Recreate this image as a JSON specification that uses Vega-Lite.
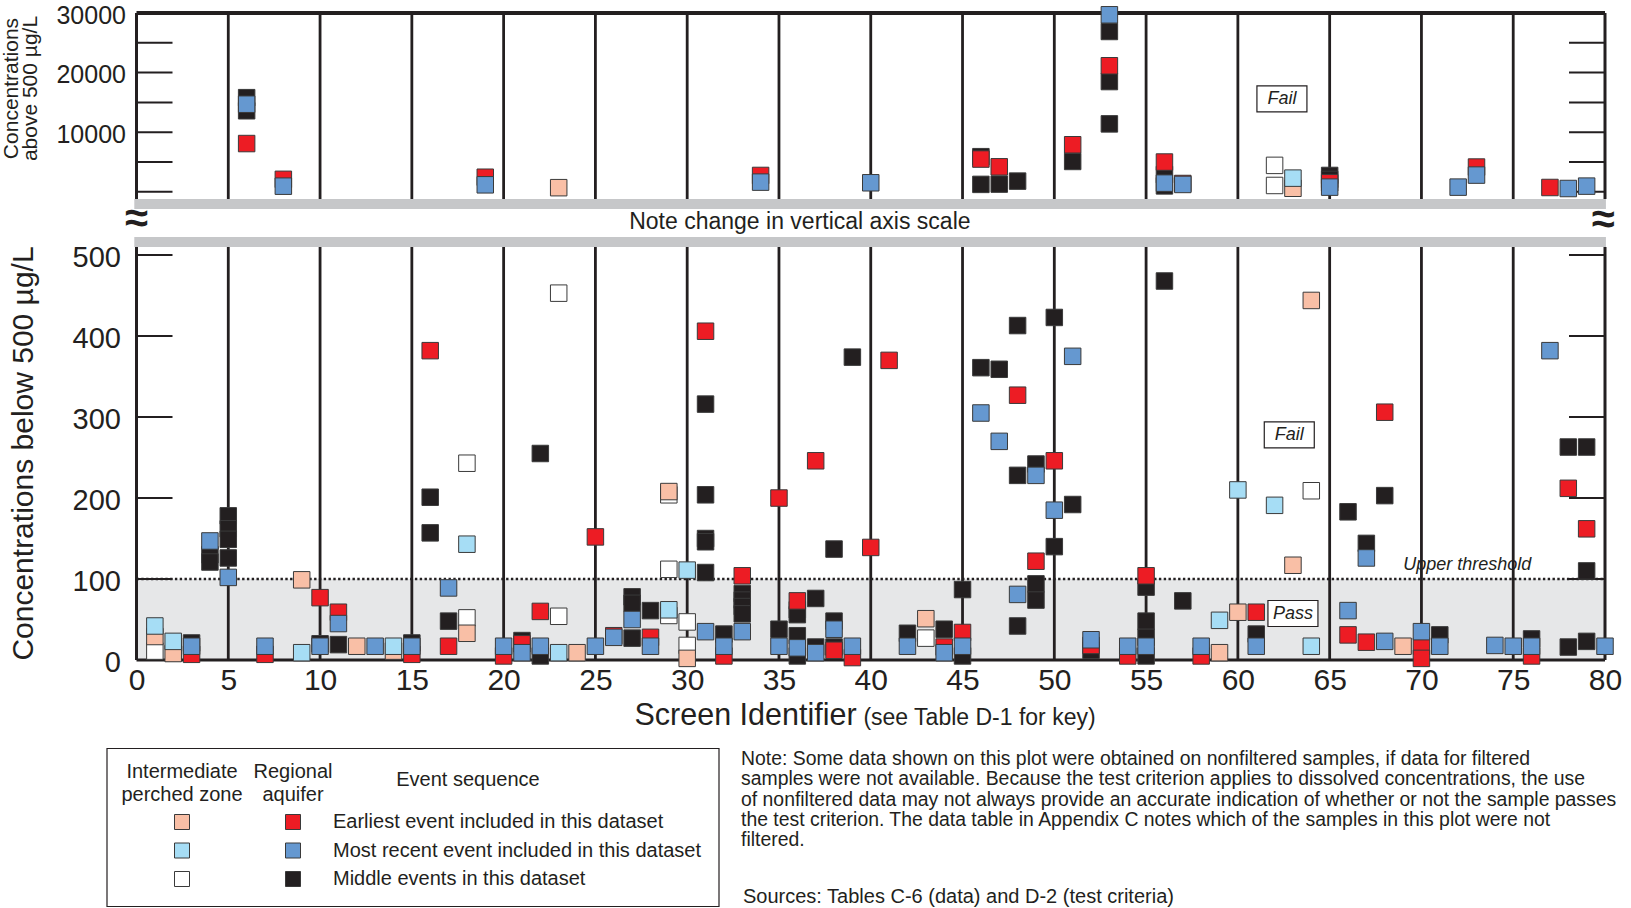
{
  "$schema": "https://vega.github.io/schema/vega-lite/v6.json",
  "width": 1468.5,
  "height": 647,
  "autosize": {"type": "none"},
  "padding": {"left": 136.5, "top": 13, "right": 26, "bottom": 248},
  "background": "white",
  "config": {
    "view": {"stroke": null},
    "font": "Liberation Sans",
    "axis": {"labelFont": "Liberation Sans", "titleFont": "Liberation Sans", "labelColor": "#231F20", "titleColor": "#231F20", "titleFontWeight": "normal", "grid": false, "domain": false, "ticks": false},
    "text": {"font": "Liberation Sans", "color": "#231F20"}
  },
  "datasets": {
    "upper": [
      {"screen": 6, "conc": 15800, "group": "Regional middle"},
      {"screen": 6, "conc": 13600, "group": "Regional middle"},
      {"screen": 46, "conc": 5900, "group": "Regional middle"},
      {"screen": 46, "conc": 1250, "group": "Regional middle"},
      {"screen": 47, "conc": 1300, "group": "Regional middle"},
      {"screen": 48, "conc": 1800, "group": "Regional middle"},
      {"screen": 51, "conc": 5100, "group": "Regional middle"},
      {"screen": 53, "conc": 26900, "group": "Regional middle"},
      {"screen": 53, "conc": 18500, "group": "Regional middle"},
      {"screen": 53, "conc": 11400, "group": "Regional middle"},
      {"screen": 56, "conc": 2900, "group": "Regional middle"},
      {"screen": 56, "conc": 1000, "group": "Regional middle"},
      {"screen": 65, "conc": 2750, "group": "Regional middle"},
      {"screen": 65, "conc": 2080, "group": "Regional middle"},
      {"screen": 62, "conc": 4440, "group": "Intermediate middle"},
      {"screen": 62, "conc": 1070, "group": "Intermediate middle"},
      {"screen": 6, "conc": 8100, "group": "Regional earliest"},
      {"screen": 8, "conc": 2100, "group": "Regional earliest"},
      {"screen": 19, "conc": 2450, "group": "Regional earliest"},
      {"screen": 34, "conc": 2750, "group": "Regional earliest"},
      {"screen": 46, "conc": 5500, "group": "Regional earliest"},
      {"screen": 47, "conc": 4200, "group": "Regional earliest"},
      {"screen": 51, "conc": 7900, "group": "Regional earliest"},
      {"screen": 53, "conc": 21150, "group": "Regional earliest"},
      {"screen": 56, "conc": 5000, "group": "Regional earliest"},
      {"screen": 57, "conc": 1400, "group": "Regional earliest"},
      {"screen": 65, "conc": 1520, "group": "Regional earliest"},
      {"screen": 73, "conc": 4160, "group": "Regional earliest"},
      {"screen": 77, "conc": 730, "group": "Regional earliest"},
      {"screen": 23, "conc": 700, "group": "Intermediate earliest"},
      {"screen": 63, "conc": 600, "group": "Intermediate earliest"},
      {"screen": 6, "conc": 14700, "group": "Regional most recent"},
      {"screen": 8, "conc": 950, "group": "Regional most recent"},
      {"screen": 19, "conc": 1180, "group": "Regional most recent"},
      {"screen": 34, "conc": 1630, "group": "Regional most recent"},
      {"screen": 40, "conc": 1520, "group": "Regional most recent"},
      {"screen": 53, "conc": 29700, "group": "Regional most recent"},
      {"screen": 56, "conc": 1460, "group": "Regional most recent"},
      {"screen": 57, "conc": 1240, "group": "Regional most recent"},
      {"screen": 65, "conc": 790, "group": "Regional most recent"},
      {"screen": 72, "conc": 790, "group": "Regional most recent"},
      {"screen": 73, "conc": 2810, "group": "Regional most recent"},
      {"screen": 78, "conc": 560, "group": "Regional most recent"},
      {"screen": 79, "conc": 960, "group": "Regional most recent"},
      {"screen": 63, "conc": 2300, "group": "Intermediate most recent"}
    ],
    "lower": [
      {"screen": 3, "conc": 21, "group": "Regional middle"},
      {"screen": 4, "conc": 130, "group": "Regional middle"},
      {"screen": 4, "conc": 121, "group": "Regional middle"},
      {"screen": 5, "conc": 178, "group": "Regional middle"},
      {"screen": 5, "conc": 162, "group": "Regional middle"},
      {"screen": 5, "conc": 149, "group": "Regional middle"},
      {"screen": 5, "conc": 126, "group": "Regional middle"},
      {"screen": 10, "conc": 20, "group": "Regional middle"},
      {"screen": 11, "conc": 19, "group": "Regional middle"},
      {"screen": 15, "conc": 21, "group": "Regional middle"},
      {"screen": 16, "conc": 201, "group": "Regional middle"},
      {"screen": 16, "conc": 157, "group": "Regional middle"},
      {"screen": 17, "conc": 48, "group": "Regional middle"},
      {"screen": 21, "conc": 24, "group": "Regional middle"},
      {"screen": 22, "conc": 255, "group": "Regional middle"},
      {"screen": 22, "conc": 5, "group": "Regional middle"},
      {"screen": 27, "conc": 78, "group": "Regional middle"},
      {"screen": 27, "conc": 70, "group": "Regional middle"},
      {"screen": 27, "conc": 27, "group": "Regional middle"},
      {"screen": 28, "conc": 61, "group": "Regional middle"},
      {"screen": 31, "conc": 316, "group": "Regional middle"},
      {"screen": 31, "conc": 204, "group": "Regional middle"},
      {"screen": 31, "conc": 150, "group": "Regional middle"},
      {"screen": 31, "conc": 146, "group": "Regional middle"},
      {"screen": 31, "conc": 108, "group": "Regional middle"},
      {"screen": 32, "conc": 32, "group": "Regional middle"},
      {"screen": 33, "conc": 82, "group": "Regional middle"},
      {"screen": 33, "conc": 74, "group": "Regional middle"},
      {"screen": 33, "conc": 66, "group": "Regional middle"},
      {"screen": 33, "conc": 57, "group": "Regional middle"},
      {"screen": 35, "conc": 38, "group": "Regional middle"},
      {"screen": 36, "conc": 62, "group": "Regional middle"},
      {"screen": 36, "conc": 56, "group": "Regional middle"},
      {"screen": 36, "conc": 30, "group": "Regional middle"},
      {"screen": 36, "conc": 5, "group": "Regional middle"},
      {"screen": 37, "conc": 76, "group": "Regional middle"},
      {"screen": 37, "conc": 16, "group": "Regional middle"},
      {"screen": 38, "conc": 137, "group": "Regional middle"},
      {"screen": 38, "conc": 48, "group": "Regional middle"},
      {"screen": 38, "conc": 16, "group": "Regional middle"},
      {"screen": 39, "conc": 374, "group": "Regional middle"},
      {"screen": 42, "conc": 33, "group": "Regional middle"},
      {"screen": 44, "conc": 38, "group": "Regional middle"},
      {"screen": 45, "conc": 87, "group": "Regional middle"},
      {"screen": 45, "conc": 5, "group": "Regional middle"},
      {"screen": 46, "conc": 361, "group": "Regional middle"},
      {"screen": 47, "conc": 359, "group": "Regional middle"},
      {"screen": 48, "conc": 413, "group": "Regional middle"},
      {"screen": 48, "conc": 228, "group": "Regional middle"},
      {"screen": 48, "conc": 42, "group": "Regional middle"},
      {"screen": 49, "conc": 242, "group": "Regional middle"},
      {"screen": 49, "conc": 94, "group": "Regional middle"},
      {"screen": 49, "conc": 74, "group": "Regional middle"},
      {"screen": 50, "conc": 423, "group": "Regional middle"},
      {"screen": 50, "conc": 140, "group": "Regional middle"},
      {"screen": 51, "conc": 192, "group": "Regional middle"},
      {"screen": 52, "conc": 12, "group": "Regional middle"},
      {"screen": 55, "conc": 90, "group": "Regional middle"},
      {"screen": 55, "conc": 48, "group": "Regional middle"},
      {"screen": 55, "conc": 28, "group": "Regional middle"},
      {"screen": 55, "conc": 5, "group": "Regional middle"},
      {"screen": 56, "conc": 468, "group": "Regional middle"},
      {"screen": 57, "conc": 73, "group": "Regional middle"},
      {"screen": 61, "conc": 32, "group": "Regional middle"},
      {"screen": 66, "conc": 183, "group": "Regional middle"},
      {"screen": 67, "conc": 144, "group": "Regional middle"},
      {"screen": 68, "conc": 203, "group": "Regional middle"},
      {"screen": 71, "conc": 31, "group": "Regional middle"},
      {"screen": 76, "conc": 26, "group": "Regional middle"},
      {"screen": 78, "conc": 263, "group": "Regional middle"},
      {"screen": 78, "conc": 16, "group": "Regional middle"},
      {"screen": 79, "conc": 263, "group": "Regional middle"},
      {"screen": 79, "conc": 110, "group": "Regional middle"},
      {"screen": 79, "conc": 23, "group": "Regional middle"},
      {"screen": 1, "conc": 11, "group": "Intermediate middle"},
      {"screen": 18, "conc": 243, "group": "Intermediate middle"},
      {"screen": 18, "conc": 52, "group": "Intermediate middle"},
      {"screen": 23, "conc": 453, "group": "Intermediate middle"},
      {"screen": 23, "conc": 54, "group": "Intermediate middle"},
      {"screen": 29, "conc": 204, "group": "Intermediate middle"},
      {"screen": 29, "conc": 112, "group": "Intermediate middle"},
      {"screen": 29, "conc": 55, "group": "Intermediate middle"},
      {"screen": 30, "conc": 47, "group": "Intermediate middle"},
      {"screen": 30, "conc": 18, "group": "Intermediate middle"},
      {"screen": 43, "conc": 27, "group": "Intermediate middle"},
      {"screen": 64, "conc": 209, "group": "Intermediate middle"},
      {"screen": 3, "conc": 7, "group": "Regional earliest"},
      {"screen": 7, "conc": 7, "group": "Regional earliest"},
      {"screen": 10, "conc": 77, "group": "Regional earliest"},
      {"screen": 11, "conc": 59, "group": "Regional earliest"},
      {"screen": 15, "conc": 7, "group": "Regional earliest"},
      {"screen": 16, "conc": 382, "group": "Regional earliest"},
      {"screen": 17, "conc": 17, "group": "Regional earliest"},
      {"screen": 20, "conc": 5, "group": "Regional earliest"},
      {"screen": 21, "conc": 20, "group": "Regional earliest"},
      {"screen": 22, "conc": 60, "group": "Regional earliest"},
      {"screen": 25, "conc": 152, "group": "Regional earliest"},
      {"screen": 26, "conc": 30, "group": "Regional earliest"},
      {"screen": 28, "conc": 28, "group": "Regional earliest"},
      {"screen": 31, "conc": 406, "group": "Regional earliest"},
      {"screen": 32, "conc": 5, "group": "Regional earliest"},
      {"screen": 33, "conc": 104, "group": "Regional earliest"},
      {"screen": 35, "conc": 200, "group": "Regional earliest"},
      {"screen": 36, "conc": 73, "group": "Regional earliest"},
      {"screen": 37, "conc": 246, "group": "Regional earliest"},
      {"screen": 38, "conc": 12, "group": "Regional earliest"},
      {"screen": 39, "conc": 3, "group": "Regional earliest"},
      {"screen": 40, "conc": 139, "group": "Regional earliest"},
      {"screen": 41, "conc": 370, "group": "Regional earliest"},
      {"screen": 44, "conc": 16, "group": "Regional earliest"},
      {"screen": 45, "conc": 34, "group": "Regional earliest"},
      {"screen": 48, "conc": 327, "group": "Regional earliest"},
      {"screen": 49, "conc": 122, "group": "Regional earliest"},
      {"screen": 50, "conc": 246, "group": "Regional earliest"},
      {"screen": 52, "conc": 18, "group": "Regional earliest"},
      {"screen": 54, "conc": 5, "group": "Regional earliest"},
      {"screen": 55, "conc": 104, "group": "Regional earliest"},
      {"screen": 58, "conc": 5, "group": "Regional earliest"},
      {"screen": 61, "conc": 59, "group": "Regional earliest"},
      {"screen": 66, "conc": 31, "group": "Regional earliest"},
      {"screen": 67, "conc": 22, "group": "Regional earliest"},
      {"screen": 68, "conc": 306, "group": "Regional earliest"},
      {"screen": 70, "conc": 17, "group": "Regional earliest"},
      {"screen": 70, "conc": 2, "group": "Regional earliest"},
      {"screen": 76, "conc": 5, "group": "Regional earliest"},
      {"screen": 78, "conc": 212, "group": "Regional earliest"},
      {"screen": 79, "conc": 162, "group": "Regional earliest"},
      {"screen": 1, "conc": 29, "group": "Intermediate earliest"},
      {"screen": 2, "conc": 8, "group": "Intermediate earliest"},
      {"screen": 9, "conc": 99, "group": "Intermediate earliest"},
      {"screen": 12, "conc": 17, "group": "Intermediate earliest"},
      {"screen": 14, "conc": 11, "group": "Intermediate earliest"},
      {"screen": 18, "conc": 33, "group": "Intermediate earliest"},
      {"screen": 24, "conc": 9, "group": "Intermediate earliest"},
      {"screen": 29, "conc": 208, "group": "Intermediate earliest"},
      {"screen": 30, "conc": 2, "group": "Intermediate earliest"},
      {"screen": 43, "conc": 51, "group": "Intermediate earliest"},
      {"screen": 59, "conc": 9, "group": "Intermediate earliest"},
      {"screen": 60, "conc": 59, "group": "Intermediate earliest"},
      {"screen": 63, "conc": 117, "group": "Intermediate earliest"},
      {"screen": 64, "conc": 444, "group": "Intermediate earliest"},
      {"screen": 69, "conc": 17, "group": "Intermediate earliest"},
      {"screen": 3, "conc": 17, "group": "Regional most recent"},
      {"screen": 4, "conc": 147, "group": "Regional most recent"},
      {"screen": 5, "conc": 102, "group": "Regional most recent"},
      {"screen": 7, "conc": 17, "group": "Regional most recent"},
      {"screen": 10, "conc": 17, "group": "Regional most recent"},
      {"screen": 11, "conc": 45, "group": "Regional most recent"},
      {"screen": 13, "conc": 17, "group": "Regional most recent"},
      {"screen": 15, "conc": 17, "group": "Regional most recent"},
      {"screen": 17, "conc": 89, "group": "Regional most recent"},
      {"screen": 20, "conc": 17, "group": "Regional most recent"},
      {"screen": 21, "conc": 9, "group": "Regional most recent"},
      {"screen": 22, "conc": 17, "group": "Regional most recent"},
      {"screen": 25, "conc": 17, "group": "Regional most recent"},
      {"screen": 26, "conc": 28, "group": "Regional most recent"},
      {"screen": 27, "conc": 50, "group": "Regional most recent"},
      {"screen": 28, "conc": 17, "group": "Regional most recent"},
      {"screen": 31, "conc": 35, "group": "Regional most recent"},
      {"screen": 32, "conc": 17, "group": "Regional most recent"},
      {"screen": 33, "conc": 35, "group": "Regional most recent"},
      {"screen": 35, "conc": 17, "group": "Regional most recent"},
      {"screen": 36, "conc": 15, "group": "Regional most recent"},
      {"screen": 37, "conc": 9, "group": "Regional most recent"},
      {"screen": 38, "conc": 38, "group": "Regional most recent"},
      {"screen": 39, "conc": 17, "group": "Regional most recent"},
      {"screen": 42, "conc": 17, "group": "Regional most recent"},
      {"screen": 44, "conc": 9, "group": "Regional most recent"},
      {"screen": 45, "conc": 17, "group": "Regional most recent"},
      {"screen": 46, "conc": 305, "group": "Regional most recent"},
      {"screen": 47, "conc": 270, "group": "Regional most recent"},
      {"screen": 48, "conc": 81, "group": "Regional most recent"},
      {"screen": 49, "conc": 228, "group": "Regional most recent"},
      {"screen": 50, "conc": 185, "group": "Regional most recent"},
      {"screen": 51, "conc": 375, "group": "Regional most recent"},
      {"screen": 52, "conc": 25, "group": "Regional most recent"},
      {"screen": 54, "conc": 17, "group": "Regional most recent"},
      {"screen": 55, "conc": 17, "group": "Regional most recent"},
      {"screen": 58, "conc": 17, "group": "Regional most recent"},
      {"screen": 61, "conc": 17, "group": "Regional most recent"},
      {"screen": 66, "conc": 61, "group": "Regional most recent"},
      {"screen": 67, "conc": 126, "group": "Regional most recent"},
      {"screen": 68, "conc": 23, "group": "Regional most recent"},
      {"screen": 70, "conc": 35, "group": "Regional most recent"},
      {"screen": 71, "conc": 17, "group": "Regional most recent"},
      {"screen": 74, "conc": 18, "group": "Regional most recent"},
      {"screen": 75, "conc": 17, "group": "Regional most recent"},
      {"screen": 76, "conc": 17, "group": "Regional most recent"},
      {"screen": 77, "conc": 382, "group": "Regional most recent"},
      {"screen": 80, "conc": 17, "group": "Regional most recent"},
      {"screen": 1, "conc": 42, "group": "Intermediate most recent"},
      {"screen": 2, "conc": 23, "group": "Intermediate most recent"},
      {"screen": 9, "conc": 9, "group": "Intermediate most recent"},
      {"screen": 14, "conc": 17, "group": "Intermediate most recent"},
      {"screen": 18, "conc": 143, "group": "Intermediate most recent"},
      {"screen": 23, "conc": 9, "group": "Intermediate most recent"},
      {"screen": 29, "conc": 62, "group": "Intermediate most recent"},
      {"screen": 30, "conc": 111, "group": "Intermediate most recent"},
      {"screen": 59, "conc": 49, "group": "Intermediate most recent"},
      {"screen": 60, "conc": 210, "group": "Intermediate most recent"},
      {"screen": 62, "conc": 191, "group": "Intermediate most recent"},
      {"screen": 64, "conc": 17, "group": "Intermediate most recent"}
    ],
    "screens": [{"screen": 5}, {"screen": 10}, {"screen": 15}, {"screen": 20}, {"screen": 25}, {"screen": 30}, {"screen": 35}, {"screen": 40}, {"screen": 45}, {"screen": 50}, {"screen": 55}, {"screen": 60}, {"screen": 65}, {"screen": 70}, {"screen": 75}],
    "edges": [{"screen": 0}, {"screen": 80}],
    "ticksUpper": [{"conc": 0}, {"conc": 5000}, {"conc": 10000}, {"conc": 15000}, {"conc": 20000}, {"conc": 25000}],
    "ticksLower": [{"conc": 100}, {"conc": 200}, {"conc": 300}, {"conc": 400}, {"conc": 500}],
    "bands": [{"from": 510, "to": 522.4}, {"from": 556.9, "to": 569.3}],
    "upperNotes": [{"screen": 62.4, "conc": 15600, "label": "Fail"}],
    "lowerNotes": [{"screen": 62.8, "conc": 278, "label": "Fail"}, {"screen": 63.0, "conc": 57.4, "label": "Pass"}],
    "threshold": [{"screen": 72.5, "conc": 117, "label": "Upper threshold"}],
    "scaleNote": [{"screen": 36.14, "conc": 541.4, "label": "Note change in vertical axis scale"}],
    "breaks": [{"screen": 0, "conc": 544, "label": "≈"}, {"screen": 79.9, "conc": 543, "label": "≈"}],
    "legendItems": [
      {"zone": "Intermediate perched zone", "event": "Earliest event included in this dataset", "group": "Intermediate earliest"},
      {"zone": "Intermediate perched zone", "event": "Most recent event included in this dataset", "group": "Intermediate most recent"},
      {"zone": "Intermediate perched zone", "event": "Middle events in this dataset", "group": "Intermediate middle"},
      {"zone": "Regional aquifer", "event": "Earliest event included in this dataset", "group": "Regional earliest"},
      {"zone": "Regional aquifer", "event": "Most recent event included in this dataset", "group": "Regional most recent"},
      {"zone": "Regional aquifer", "event": "Middle events in this dataset", "group": "Regional middle"}
    ],
    "legendHeads": [
      {"zone": "Intermediate perched zone", "lines": ["Intermediate", "perched zone"]},
      {"zone": "Regional aquifer", "lines": ["Regional", "aquifer"]}
    ],
    "legendLabels": [
      {"event": "Earliest event included in this dataset"},
      {"event": "Most recent event included in this dataset"},
      {"event": "Middle events in this dataset"}
    ],
    "notes": [{"lines": ["Note: Some data shown on this plot were obtained on nonfiltered samples, if data for filtered", "samples were not available.  Because the test criterion applies to dissolved concentrations, the use", "of nonfiltered data may not always provide an accurate indication of whether or not the sample passes", "the test criterion. The data table in Appendix C notes which of the samples in this plot were not", "filtered."]}],
    "sources": [{"label": "Sources: Tables C-6 (data) and D-2 (test criteria)"}]
  },
  "layer": [
    {
      "layer": [
        {
          "data": {"name": "screens"},
          "mark": {"type": "rule", "color": "#231F20", "strokeWidth": 2.8},
          "encoding": {
            "x": {"field": "screen", "type": "quantitative", "scale": {"domain": [0, 80], "nice": false, "zero": false}},
            "y": {"datum": -1200, "type": "quantitative", "scale": {"domain": [-1200, 30000], "range": [186, 0], "nice": false, "zero": false}},
            "y2": {"datum": 30000}
          }
        },
        {
          "data": {"name": "edges"},
          "mark": {"type": "rule", "color": "#231F20", "strokeWidth": 3},
          "encoding": {
            "x": {"field": "screen", "type": "quantitative"},
            "y": {"datum": -1200, "type": "quantitative"},
            "y2": {"datum": 30000}
          }
        },
        {
          "data": {"values": [{"border": "top"}]},
          "mark": {"type": "rule", "color": "#231F20", "strokeWidth": 4},
          "encoding": {
            "x": {"datum": 0, "type": "quantitative"},
            "x2": {"datum": 80},
            "y": {"datum": 30000, "type": "quantitative"}
          }
        },
        {
          "data": {"name": "ticksUpper"},
          "mark": {"type": "tick", "orient": "horizontal", "size": 36, "thickness": 2, "xOffset": 18, "color": "#231F20", "opacity": 1},
          "encoding": {
            "x": {"datum": 0, "type": "quantitative"},
            "y": {"field": "conc", "type": "quantitative"}
          }
        },
        {
          "data": {"name": "ticksUpper"},
          "mark": {"type": "tick", "orient": "horizontal", "size": 36, "thickness": 2, "xOffset": -18, "color": "#231F20", "opacity": 1},
          "encoding": {
            "x": {"datum": 80, "type": "quantitative"},
            "y": {"field": "conc", "type": "quantitative"}
          }
        },
        {
          "data": {"name": "upper"},
          "mark": {"type": "point", "shape": "square", "filled": true, "size": 272, "stroke": "#3A3A3A", "strokeWidth": 1, "opacity": 1},
          "encoding": {
            "x": {"field": "screen", "type": "quantitative",
                  "axis": {"orient": "bottom", "labels": false, "title": "(see Table D-1 for key)", "titleFontSize": 23, "titleX": 842.5, "titleY": 64, "titleAlign": "center", "titleBaseline": "alphabetic"}},
            "y": {"field": "conc", "type": "quantitative",
                  "axis": {"orient": "left", "values": [10000, 20000, 30000], "format": "d", "labelFontSize": 25, "labelPadding": 11, "labelOffset": 2, "labelBaseline": "middle", "labelFlush": false, "labelOverlap": false,
                           "title": ["Concentrations", "above 500 µg/L"], "titleFontSize": 21, "titleAngle": -90, "titleX": -125, "titleY": 75, "titleAlign": "center", "titleBaseline": "middle", "titleLineHeight": 19}},
            "fill": {"field": "group", "type": "nominal", "legend": null,
                     "scale": {"domain": ["Regional earliest", "Regional most recent", "Regional middle", "Intermediate earliest", "Intermediate most recent", "Intermediate middle"],
                               "range": ["#ED1C24", "#6598D0", "#231F20", "#F9BFA6", "#A6DDF5", "#FFFFFF"]}}
          }
        },
        {
          "data": {"name": "upperNotes"},
          "mark": {"type": "point", "shape": "M-1,-0.52H1V0.52H-1Z", "size": 2500, "filled": true, "fill": "white", "stroke": "#231F20", "strokeWidth": 1.2, "opacity": 1},
          "encoding": {
            "x": {"field": "screen", "type": "quantitative"},
            "y": {"field": "conc", "type": "quantitative"}
          }
        },
        {
          "data": {"name": "upperNotes"},
          "mark": {"type": "text", "fontSize": 18, "fontStyle": "italic", "align": "center", "baseline": "middle"},
          "encoding": {
            "x": {"field": "screen", "type": "quantitative"},
            "y": {"field": "conc", "type": "quantitative"},
            "text": {"field": "label"}
          }
        }
      ]
    },
    {
      "layer": [
        {
          "data": {"values": [{"zone": "pass"}]},
          "mark": {"type": "rect", "color": "#E6E7E8"},
          "encoding": {
            "x": {"datum": 0, "type": "quantitative", "scale": {"domain": [0, 80], "nice": false, "zero": false}},
            "x2": {"datum": 80},
            "y": {"datum": 0, "type": "quantitative", "scale": {"domain": [0, 510], "range": [647, 234], "nice": false, "zero": false}},
            "y2": {"datum": 100}
          }
        },
        {
          "data": {"name": "bands"},
          "mark": {"type": "rect", "color": "#C6C7C9"},
          "encoding": {
            "x": {"datum": -0.12, "type": "quantitative"},
            "x2": {"datum": 80.05},
            "y": {"field": "from", "type": "quantitative"},
            "y2": {"field": "to"}
          }
        },
        {
          "data": {"values": [{"line": "upper threshold"}]},
          "mark": {"type": "rule", "color": "#231F20", "strokeWidth": 2.4, "strokeDash": [2.4, 2.4]},
          "encoding": {
            "x": {"datum": 0, "type": "quantitative"},
            "x2": {"datum": 80},
            "y": {"datum": 100, "type": "quantitative"}
          }
        },
        {
          "data": {"name": "screens"},
          "mark": {"type": "rule", "color": "#231F20", "strokeWidth": 2.8},
          "encoding": {
            "x": {"field": "screen", "type": "quantitative"},
            "y": {"datum": 0, "type": "quantitative"},
            "y2": {"datum": 510}
          }
        },
        {
          "data": {"name": "edges"},
          "mark": {"type": "rule", "color": "#231F20", "strokeWidth": 3},
          "encoding": {
            "x": {"field": "screen", "type": "quantitative"},
            "y": {"datum": 0, "type": "quantitative"},
            "y2": {"datum": 510}
          }
        },
        {
          "data": {"values": [{"border": "bottom"}]},
          "mark": {"type": "rule", "color": "#231F20", "strokeWidth": 3},
          "encoding": {
            "x": {"datum": 0, "type": "quantitative"},
            "x2": {"datum": 80},
            "y": {"datum": 0, "type": "quantitative"}
          }
        },
        {
          "data": {"name": "ticksLower"},
          "mark": {"type": "tick", "orient": "horizontal", "size": 36, "thickness": 2, "xOffset": 18, "color": "#231F20", "opacity": 1},
          "encoding": {
            "x": {"datum": 0, "type": "quantitative"},
            "y": {"field": "conc", "type": "quantitative"}
          }
        },
        {
          "data": {"name": "ticksLower"},
          "mark": {"type": "tick", "orient": "horizontal", "size": 36, "thickness": 2, "xOffset": -18, "color": "#231F20", "opacity": 1},
          "encoding": {
            "x": {"datum": 80, "type": "quantitative"},
            "y": {"field": "conc", "type": "quantitative"}
          }
        },
        {
          "data": {"name": "lower"},
          "mark": {"type": "point", "shape": "square", "filled": true, "size": 272, "stroke": "#3A3A3A", "strokeWidth": 1, "opacity": 1},
          "encoding": {
            "x": {"field": "screen", "type": "quantitative",
                  "axis": {"orient": "bottom", "values": [0, 5, 10, 15, 20, 25, 30, 35, 40, 45, 50, 55, 60, 65, 70, 75, 80], "labelFontSize": 30, "labelPadding": 29, "labelBaseline": "alphabetic", "labelFlush": false, "labelOverlap": false,
                           "title": "Screen Identifier", "titleFontSize": 30.5, "titleX": 608.5, "titleY": 64, "titleAlign": "center", "titleBaseline": "alphabetic"}},
            "y": {"field": "conc", "type": "quantitative",
                  "axis": {"orient": "left", "values": [0, 100, 200, 300, 400, 500], "labelFontSize": 29, "labelPadding": 16, "labelOffset": 2, "labelBaseline": "middle", "labelFlush": false, "labelOverlap": false,
                           "title": "Concentrations below 500 µg/L", "titleFontSize": 30, "titleAngle": -90, "titleX": -113.5, "titleY": 440, "titleAlign": "center", "titleBaseline": "middle"}},
            "fill": {"field": "group", "type": "nominal", "legend": null}
          }
        },
        {
          "data": {"name": "lowerNotes"},
          "mark": {"type": "point", "shape": "M-1,-0.52H1V0.52H-1Z", "size": 2500, "filled": true, "fill": "white", "stroke": "#231F20", "strokeWidth": 1.2, "opacity": 1},
          "encoding": {
            "x": {"field": "screen", "type": "quantitative"},
            "y": {"field": "conc", "type": "quantitative"}
          }
        },
        {
          "data": {"name": "lowerNotes"},
          "mark": {"type": "text", "fontSize": 18, "fontStyle": "italic", "align": "center", "baseline": "middle"},
          "encoding": {
            "x": {"field": "screen", "type": "quantitative"},
            "y": {"field": "conc", "type": "quantitative"},
            "text": {"field": "label"}
          }
        },
        {
          "data": {"name": "threshold"},
          "mark": {"type": "text", "fontSize": 18, "fontStyle": "italic", "align": "center", "baseline": "middle"},
          "encoding": {
            "x": {"field": "screen", "type": "quantitative"},
            "y": {"field": "conc", "type": "quantitative"},
            "text": {"field": "label"}
          }
        },
        {
          "data": {"name": "scaleNote"},
          "mark": {"type": "text", "fontSize": 23, "align": "center", "baseline": "middle"},
          "encoding": {
            "x": {"field": "screen", "type": "quantitative"},
            "y": {"field": "conc", "type": "quantitative"},
            "text": {"field": "label"}
          }
        },
        {
          "data": {"name": "breaks"},
          "mark": {"type": "text", "fontSize": 42, "fontWeight": "bold", "align": "center", "baseline": "middle"},
          "encoding": {
            "x": {"field": "screen", "type": "quantitative"},
            "y": {"field": "conc", "type": "quantitative"},
            "text": {"field": "label"}
          }
        }
      ]
    },
    {
      "layer": [
        {
          "data": {"values": [{"item": "legend frame"}]},
          "mark": {"type": "point", "shape": "M-1,-0.2582H1V0.2582H-1Z", "size": 374544, "filled": false, "stroke": "#231F20", "strokeWidth": 1.2, "opacity": 1, "xOffset": 120, "yOffset": -23},
          "encoding": {
            "x": {"datum": "Regional aquifer", "type": "nominal", "axis": null,
                  "scale": {"type": "point", "domain": ["Intermediate perched zone", "Regional aquifer"], "range": [45.5, 156.5], "padding": 0}},
            "y": {"datum": "Most recent event included in this dataset", "type": "nominal", "axis": null,
                  "scale": {"type": "point", "domain": ["Earliest event included in this dataset", "Most recent event included in this dataset", "Middle events in this dataset"], "range": [809, 866], "padding": 0}}
          }
        },
        {
          "data": {"name": "legendHeads"},
          "mark": {"type": "text", "fontSize": 20, "lineHeight": 23, "align": "center", "baseline": "middle", "dy": -50},
          "encoding": {
            "x": {"field": "zone", "type": "nominal", "axis": null},
            "y": {"datum": "Earliest event included in this dataset", "type": "nominal", "axis": null},
            "text": {"field": "lines"}
          }
        },
        {
          "data": {"values": [{"label": "Event sequence"}]},
          "mark": {"type": "text", "fontSize": 20, "align": "center", "baseline": "middle", "dx": 175, "dy": -42},
          "encoding": {
            "x": {"datum": "Regional aquifer", "type": "nominal", "axis": null},
            "y": {"datum": "Earliest event included in this dataset", "type": "nominal", "axis": null},
            "text": {"field": "label"}
          }
        },
        {
          "data": {"name": "legendItems"},
          "mark": {"type": "point", "shape": "square", "filled": true, "size": 225, "stroke": "#3A3A3A", "strokeWidth": 1, "opacity": 1},
          "encoding": {
            "x": {"field": "zone", "type": "nominal", "axis": null},
            "y": {"field": "event", "type": "nominal", "axis": null},
            "fill": {"field": "group", "type": "nominal", "legend": null}
          }
        },
        {
          "data": {"name": "legendLabels"},
          "mark": {"type": "text", "fontSize": 20, "align": "left", "baseline": "middle", "dx": 40},
          "encoding": {
            "x": {"datum": "Regional aquifer", "type": "nominal", "axis": null},
            "y": {"field": "event", "type": "nominal", "axis": null},
            "text": {"field": "event"}
          }
        },
        {
          "data": {"name": "notes"},
          "mark": {"type": "text", "fontSize": 19.4, "lineHeight": 20.3, "align": "left", "baseline": "top", "dx": 448, "dy": -72},
          "encoding": {
            "x": {"datum": "Regional aquifer", "type": "nominal", "axis": null},
            "y": {"datum": "Earliest event included in this dataset", "type": "nominal", "axis": null},
            "text": {"field": "lines"}
          }
        },
        {
          "data": {"name": "sources"},
          "mark": {"type": "text", "fontSize": 20, "align": "left", "baseline": "middle", "dx": 450, "dy": 18},
          "encoding": {
            "x": {"datum": "Regional aquifer", "type": "nominal", "axis": null},
            "y": {"datum": "Middle events in this dataset", "type": "nominal", "axis": null},
            "text": {"field": "label"}
          }
        }
      ]
    }
  ],
  "resolve": {"scale": {"x": "independent", "y": "independent"}}
}
